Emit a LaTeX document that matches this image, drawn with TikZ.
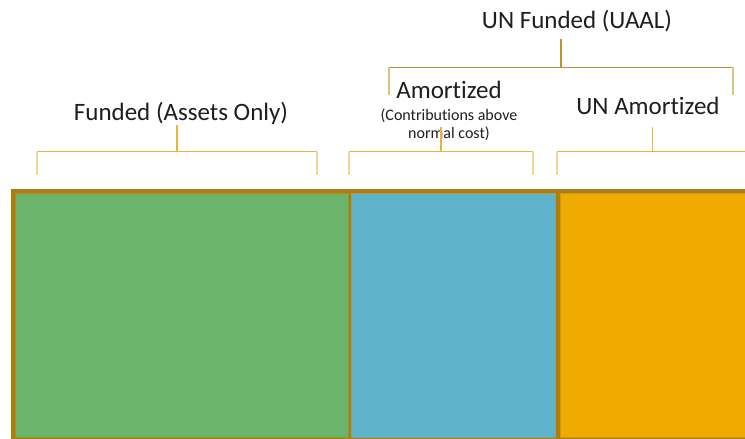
\documentclass[tikz,border=0pt]{standalone}
\usepackage{fontspec}
\setmainfont{Carlito}[Ligatures=CommonOff]
\definecolor{frame}{HTML}{B07D0A}
\definecolor{fundgreen}{HTML}{6BB56D}
\definecolor{greenedge}{HTML}{8C9A32}
\definecolor{amortblue}{HTML}{5FB3CB}
\definecolor{blueedge}{HTML}{86A68A}
\definecolor{unamort}{HTML}{EFAB00}
\definecolor{orangeedge}{HTML}{D39A08}
\definecolor{brace}{HTML}{E9B441}
\definecolor{braceend}{HTML}{F2D494}
\definecolor{topbrace}{HTML}{BD9231}
\definecolor{topbraceend}{HTML}{DCC084}
\definecolor{ink}{HTML}{1E1E1E}
\tikzset{
  lbl/.style={inner sep=0pt, anchor=base, text=ink, font=\fontsize{25}{28}\selectfont},
  sublbl/.style={inner sep=0pt, anchor=base, text=ink, font=\fontsize{16}{18.5}\selectfont},
  barpart/.style={draw, line width=1.2pt, inner sep=0pt, anchor=north west},
  stem/.style={draw=brace, line width=1.4pt},
  arm/.style={draw=brace, line width=1.2pt},
  armend/.style={draw=braceend, line width=1.5pt},
  topstem/.style={draw=topbrace, line width=1.4pt},
  toparm/.style={draw=topbrace, line width=1.2pt},
  toparmend/.style={draw=topbraceend, line width=1.5pt}
}
\begin{document}
\begin{tikzpicture}[x=1pt, y=-1pt]
\useasboundingbox (0,0) rectangle (745,439);
\fill[white] (0,0) rectangle (745,439);
\clip (0,0) rectangle (745,439);

% three segments of the bar
\fill[frame] (11,189) rectangle (760,445);
\node[barpart, draw=greenedge, fill=fundgreen, minimum width=333pt, minimum height=244pt] (funded) at (14.5,192.5) {};
\node[barpart, draw=blueedge, fill=amortblue, minimum width=204pt, minimum height=244pt] (amort) at (351,192.5) {};
\node[barpart, draw=orangeedge, fill=unamort, minimum width=200pt, minimum height=244pt] (unamort) at (559.5,192.5) {};

% labels
\node[lbl] (tFunded) at (181,120) {Funded (Assets Only)};
\node[lbl] (tAmort) at (449,98.5) {Amortized};
\node[sublbl] (tContribA) at (449,120) {(Contributions above};
\node[sublbl] (tContribB) at (449,138) {normal cost)};
\node[lbl] (tUnAmort) at (648,114) {UN Amortized};
\node[lbl] (tUnFunded) at (577,28) {UN Funded (UAAL)};

% bracket over the funded segment
\coordinate (fStem) at (177,125);
\coordinate (fMid) at (177,151.7);
\coordinate (fL) at (37,151.7);
\coordinate (fR) at (317,151.7);
\coordinate (fLd) at (37,175);
\coordinate (fRd) at (317,175);
\draw[stem] (fStem) -- (fMid);
\draw[arm] (fL) -- (fR);
\draw[armend] (fL) -- (fLd);
\draw[armend] (fR) -- (fRd);

% bracket over the amortized segment
\coordinate (aStem) at (441,127);
\coordinate (aMid) at (441,151.7);
\coordinate (aL) at (349,151.7);
\coordinate (aR) at (533,151.7);
\coordinate (aLd) at (349,175);
\coordinate (aRd) at (533,175);
\draw[stem] (aStem) -- (aMid);
\draw[arm] (aL) -- (aR);
\draw[armend] (aL) -- (aLd);
\draw[armend] (aR) -- (aRd);

% bracket over the un-amortized segment
\coordinate (uStem) at (652.7,127);
\coordinate (uMid) at (652.7,151.7);
\coordinate (uL) at (557,151.7);
\coordinate (uR) at (750,151.7);
\coordinate (uLd) at (557,175);
\draw[stem] (uStem) -- (uMid);
\draw[arm] (uL) -- (uR);
\draw[armend] (uL) -- (uLd);

% bracket grouping the unfunded part
\coordinate (tStem) at (561,39);
\coordinate (tMid) at (561,67.3);
\coordinate (tL) at (389,67.3);
\coordinate (tR) at (733,67.3);
\coordinate (tLd) at (389,95);
\coordinate (tRd) at (733,95);
\draw[topstem] (tStem) -- (tMid);
\draw[toparm] (tL) -- (tR);
\draw[toparmend] (tL) -- (tLd);
\draw[toparmend] (tR) -- (tRd);
\end{tikzpicture}
\end{document}
